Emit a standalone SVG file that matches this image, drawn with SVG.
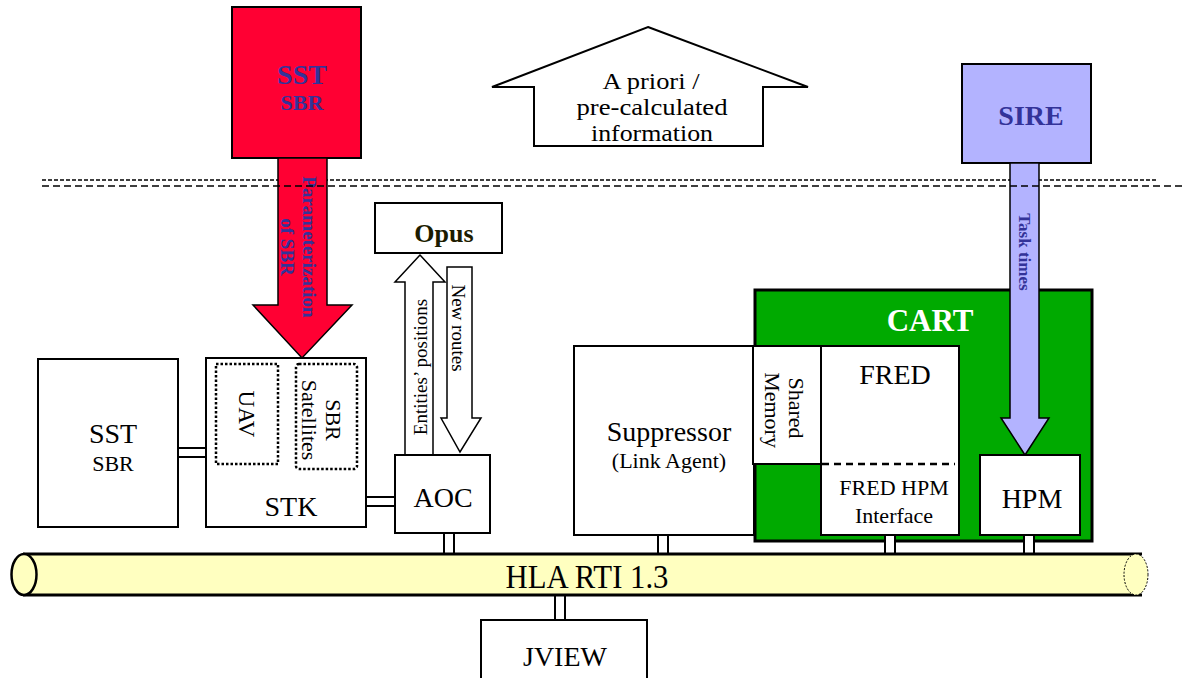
<svg xmlns="http://www.w3.org/2000/svg" width="1183" height="678" viewBox="0 0 1183 678" font-family="'Liberation Serif','Times New Roman',serif">
<style>
text{font-family:"Liberation Serif","Times New Roman",serif;fill:#000}
.box{fill:#fff;stroke:#000;stroke-width:2}
.lbl{font-size:28px;text-anchor:middle}
.sub{font-size:22px;text-anchor:middle}
.blue{fill:#333399;font-weight:bold;text-anchor:middle}
.dot{fill:none;stroke:#000;stroke-width:2.5;stroke-dasharray:2.5 2}
.stub{fill:#fff;stroke:#000;stroke-width:2}
.ap{font-size:24px;text-anchor:middle}
</style>
<rect width="1183" height="678" fill="#fff"/>
<!-- top dashed line (behind arrows) -->
<line x1="42" y1="180" x2="1157" y2="180" stroke="#000" stroke-width="1.5" stroke-dasharray="4 2"/>

<g id="apriori">
<polygon points="648,27 808,87 763,87 763,146 534,146 534,87 492,87" fill="#fff" stroke="#000" stroke-width="2"/>
<text class="ap" x="651" y="89" textLength="97" lengthAdjust="spacingAndGlyphs">A priori /</text>
<text class="ap" x="652" y="115" textLength="151" lengthAdjust="spacingAndGlyphs">pre-calculated</text>
<text class="ap" x="652" y="141" textLength="122" lengthAdjust="spacingAndGlyphs">information</text>
</g>

<g id="sst-top">
<rect x="232" y="7" width="129" height="151" fill="#ff0033" stroke="#000" stroke-width="2"/>
<text class="blue" x="302" y="84" font-size="28">SST</text>
<text class="blue" x="302" y="110" font-size="22">SBR</text>
</g>

<g id="sire">
<rect x="962" y="64" width="129" height="99" fill="#b3b3ff" stroke="#000" stroke-width="2"/>
<text class="blue" x="1031" y="125" font-size="28">SIRE</text>
</g>

<g id="cart">
<rect x="755" y="290" width="337" height="251" fill="#00aa00" stroke="#000" stroke-width="3"/>
<text x="930" y="331" font-size="31" font-weight="bold" text-anchor="middle" style="fill:#fff">CART</text>
</g>

<g id="connectors">
<polygon points="278,158 327,158 327,305 352,305 302,358 253,305 278,305" fill="#ff0033" stroke="#000" stroke-width="1.5"/>
<text class="blue" font-size="19" transform="translate(310,247) rotate(90)" dy="0.35em">Parameterization</text>
<text class="blue" font-size="19" transform="translate(288,247) rotate(90)" dy="0.35em">of SBR</text>

<polygon points="1010,163 1039,163 1039,418 1049,418 1025,455 1001,418 1010,418" fill="#b3b3ff" stroke="#000" stroke-width="1.5"/>
<text class="blue" font-size="17" transform="translate(1025,252) rotate(90)" dy="0.35em">Task times</text>

<polygon points="405,455 405,282 395,282 420,255 445,282 433,282 433,455" fill="#fff" stroke="#000" stroke-width="1.5"/>
<text font-size="19" text-anchor="middle" transform="translate(420,367) rotate(-90)" dy="0.35em">Entities’ positions</text>

<polygon points="447,267 472,267 472,418 481,418 460,452 441,418 447,418" fill="#fff" stroke="#000" stroke-width="1.5"/>
<text font-size="19" text-anchor="middle" transform="translate(459,328) rotate(90)" dy="0.35em">New routes</text>

<!-- horizontal double-line links -->
<rect class="stub" x="177" y="448" width="30" height="9"/>
<rect class="stub" x="365" y="497" width="31" height="9"/>
<!-- bus stubs -->
<rect class="stub" x="444" y="533" width="10" height="22"/>
<rect class="stub" x="658" y="533" width="10" height="22"/>
<rect class="stub" x="885" y="533" width="10" height="22"/>
<rect class="stub" x="1024" y="533" width="10" height="22"/>
<rect class="stub" x="555" y="594" width="10" height="27"/>
</g>

<!-- lower dashed line (over arrows) -->
<line x1="42" y1="186" x2="1183" y2="186" stroke="#000" stroke-width="1.5" stroke-dasharray="7 4"/>

<g id="opus">
<rect class="box" x="375" y="203" width="127" height="50"/>
<text x="444" y="242" font-size="26" font-weight="bold" text-anchor="middle" style="fill:#1c1c00">Opus</text>
</g>

<g id="sst">
<rect class="box" x="38" y="359" width="140" height="168"/>
<text class="lbl" x="113" y="443" font-size="30">SST</text>
<text class="sub" x="113" y="471">SBR</text>
</g>

<g id="stk">
<rect class="box" x="206" y="358" width="160" height="169"/>
<rect class="dot" x="216" y="364" width="62" height="100"/>
<rect class="dot" x="296" y="364" width="61" height="105" rx="3"/>
<text font-size="23" text-anchor="middle" transform="translate(247,414) rotate(90)" dy="0.35em">UAV</text>
<text font-size="22" text-anchor="middle" transform="translate(334,420) rotate(90)" dy="0.35em">SBR</text>
<text font-size="22" text-anchor="middle" transform="translate(310,420) rotate(90)" dy="0.35em">Satellites</text>
<text class="lbl" x="291" y="516">STK</text>
</g>

<g id="aoc">
<rect class="box" x="395" y="455" width="95" height="78"/>
<text class="lbl" x="443" y="507" font-size="29">AOC</text>
</g>

<g id="suppressor">
<rect class="box" x="574" y="346" width="180" height="189"/>
<text class="lbl" x="669" y="441">Suppressor</text>
<text class="sub" x="669" y="468" font-size="20">(Link Agent)</text>
</g>

<g id="shared-memory">
<rect class="box" x="753" y="346" width="69" height="118"/>
<text font-size="22" text-anchor="middle" transform="translate(797,408) rotate(90)" dy="0.35em">Shared</text>
<text font-size="22" text-anchor="middle" transform="translate(773,410) rotate(90)" dy="0.35em">Memory</text>
</g>

<g id="fred">
<rect class="box" x="821" y="346" width="138" height="189"/>
<line x1="822" y1="464" x2="955" y2="464" stroke="#000" stroke-width="2.5" stroke-dasharray="7 5"/>
<text class="lbl" x="895" y="384">FRED</text>
<text class="sub" x="894" y="495">FRED HPM</text>
<text class="sub" x="894" y="523">Interface</text>
</g>

<g id="hpm">
<rect class="box" x="980" y="455" width="100" height="80"/>
<text class="lbl" x="1032" y="508">HPM</text>
</g>

<g id="bus">
<path d="M23,554 H1136 V595 H23 Z" fill="#ffffc0" stroke="none"/>
<line x1="23" y1="554" x2="1142" y2="554" stroke="#000" stroke-width="3"/>
<line x1="23" y1="595" x2="1142" y2="595" stroke="#000" stroke-width="3"/>
<ellipse cx="1136" cy="574.5" rx="12" ry="20.5" fill="#ffffc0" stroke="#000" stroke-width="1" stroke-dasharray="2 1.5"/>
<ellipse cx="24" cy="574.5" rx="12.5" ry="20.5" fill="#ffffc0" stroke="#000" stroke-width="2.5"/>
<text x="587" y="588" font-size="33" text-anchor="middle" textLength="163" lengthAdjust="spacingAndGlyphs">HLA RTI 1.3</text>
</g>

<g id="jview">
<rect class="box" x="481" y="620" width="166" height="70"/>
<text class="lbl" x="565" y="666" font-size="30">JVIEW</text>
</g>
</svg>
